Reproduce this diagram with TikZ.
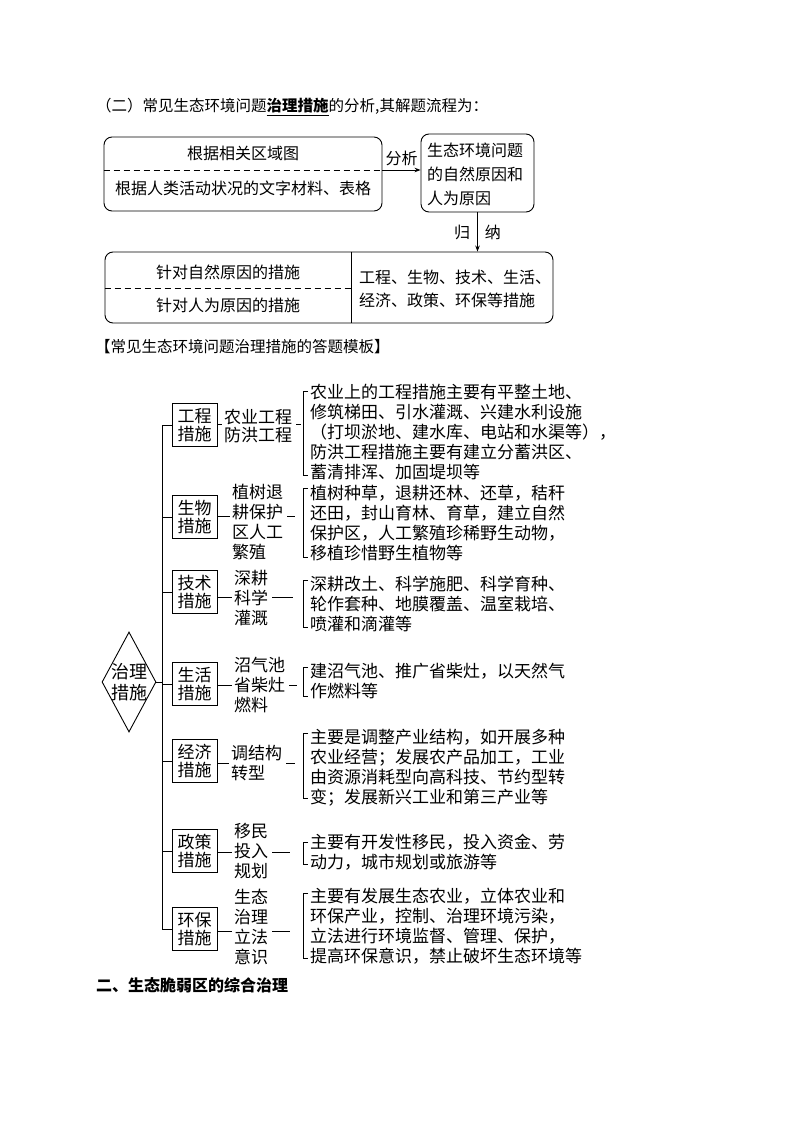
\documentclass[tikz,border=0pt]{standalone}
\usepackage{fontspec}
\setmainfont{Noto Sans CJK SC}
\usetikzlibrary{shapes.geometric,arrows.meta}
\begin{document}
\begin{tikzpicture}[x=1pt,y=-1pt,
  every node/.style={inner sep=0pt},
  ln/.style={line width=0.9pt},
  ttl/.style={anchor=west,font=\fontsize{15.5}{18}\selectfont},
  ft/.style={font=\fontsize{16}{20}\selectfont},
  rbox/.style={draw,line width=0.9pt,rounded corners=8pt},
  arr/.style={line width=0.9pt,-{Stealth[length=6pt,width=4.5pt]}},
  dsh/.style={line width=0.9pt,dash pattern=on 6pt off 4pt},
  cbox/.style={draw,line width=0.9pt,minimum width=45pt,minimum height=43pt,align=center,font=\fontsize{17}{18.5}\selectfont},
  mid/.style={anchor=west,align=left,inner xsep=2pt,font=\fontsize{17}{20}\selectfont},
  desc/.style={anchor=west,align=left,font=\fontsize{17}{20}\selectfont}]
\fill[white] (0,0) rectangle (794,1123);
\useasboundingbox (0,0) rectangle (794,1123);

% ---- title
\node[ttl] (title) at (96,107) {（二）常见生态环境问题\underline{\textbf{治理措施}}的分析,其解题流程为：};

% ---- flow chart
\node[rbox,minimum width=278pt,minimum height=74pt] (b1) at (243,174) {};
\node[ft] (b1a) at (243,153) {根据相关区域图};
\node[ft] (b1b) at (243,188) {根据人类活动状况的文字材料、表格};
\coordinate (d1) at (243,170);
\draw[dsh] (b1.west |- d1) -- (b1.east |- d1);

\node[rbox,minimum width=113pt,minimum height=78pt] (b2) at (477.5,173) {};
\node[anchor=west,align=left,font=\fontsize{16}{24}\selectfont] (b2t) at (427,174) {生态环境问题\\的自然原因和\\人为原因};

\draw[arr] (b1.east |- d1) -- node[ft,midway,above=4pt] (fx) {分析} (b2.west |- d1);

\node[rbox,minimum width=448pt,minimum height=71pt] (b3) at (329,287.5) {};
\coordinate (dv) at (351,288);
\draw[ln] (b3.north -| dv) -- (b3.south -| dv);
\draw[dsh] (b3.west |- dv) -- (dv);
\node[ft] (b3a) at (228,272) {针对自然原因的措施};
\node[ft] (b3b) at (228,305) {针对人为原因的措施};
\node[anchor=west,align=left,font=\fontsize{16}{23}\selectfont] (b3c) at (359,288.5) {工程、生物、技术、生活、\\经济、政策、环保等措施};

\draw[arr] (b2.south) -- node[ft,midway,left=7pt] (gu) {归} node[ft,midway,right=7pt] (na) {纳} (b2.south |- b3.north);

% ---- template heading
\node[ttl] (tpl) at (95,347) {【常见生态环境问题治理措施的答题模板】};

% ---- tree
\node[draw,diamond,line width=0.9pt,minimum width=54pt,minimum height=100pt] (root) at (129,682) {};
\node[align=center,font=\fontsize{18}{21}\selectfont] (rootT) at (root.center) {治理\\措施};

\node[cbox] (k1) at (194.5,425) {工程\\措施};
\node[cbox] (k2) at (194.5,517) {生物\\措施};
\node[cbox] (k3) at (194.5,592) {技术\\措施};
\node[cbox] (k4) at (194.5,684) {生活\\措施};
\node[cbox] (k5) at (194.5,761) {经济\\措施};
\node[cbox] (k6) at (194.5,851) {政策\\措施};
\node[cbox] (k7) at (194.5,929) {环保\\措施};

\coordinate (tr) at (162,0);
\draw[ln] (tr |- k1) -- (tr |- k7);
\draw[ln] (root.east) -- (tr |- root);
\foreach \i in {1,...,7} { \draw[ln] (tr |- k\i) -- (k\i.west); }

% middle keywords
\node[mid,font=\fontsize{17}{18.5}\selectfont] (m1) at (222,426) {农业工程\\防洪工程};
\node[mid] (m2) at (230,522.5) {植树退\\耕保护\\区人工\\繁殖};
\node[mid] (m3) at (232,598) {深耕\\科学\\灌溉};
\node[mid] (m4) at (232,685) {沼气池\\省柴灶\\燃料};
\node[mid] (m5) at (229,763) {调结构\\转型};
\node[mid] (m6) at (232,851) {移民\\投入\\规划};
\node[mid] (m7) at (232,927) {生态\\治理\\立法\\意识};

% connector levels and free ends
\coordinate (c1) at (0,424);   \coordinate (e1) at (301,424);
\coordinate (c2) at (0,516);   \coordinate (e2) at (295,516);
\coordinate (c3) at (0,597);   \coordinate (e3) at (293,597);
\coordinate (c4) at (0,685);   \coordinate (e4) at (297,685);
\coordinate (c5) at (0,763);   \coordinate (e5) at (295,763);
\coordinate (c6) at (0,852);   \coordinate (e6) at (290,852);
\coordinate (c7) at (0,931);   \coordinate (e7) at (290,931);
\foreach \i in {1,...,7} {
  \draw[ln] (k\i.east |- c\i) -- (m\i.west |- c\i);
  \draw[ln] ([xshift=2pt]m\i.east |- c\i) -- (e\i);
}

% brackets
\foreach \a/\b in {391/475, 488/557, 580/627, 667/696, 733/798, 842/864, 893/958} {
  \draw[ln] (308,\a) -- (303,\a) -- (303,\b) -- (308,\b);
}

% descriptions
\node[desc] (t1) at (310,432.5) {农业上的工程措施主要有平整土地、\\修筑梯田、引水灌溉、兴建水利设施\\（打坝淤地、建水库、电站和水渠等），\\防洪工程措施主要有建立分蓄洪区、\\蓄清排浑、加固堤坝等};
\node[desc] (t2) at (310,523) {植树种草，退耕还林、还草，秸秆\\还田，封山育林、育草，建立自然\\保护区，人工繁殖珍稀野生动物，\\移植珍惜野生植物等};
\node[desc] (t3) at (310,604) {深耕改土、科学施肥、科学育种、\\轮作套种、地膜覆盖、温室栽培、\\喷灌和滴灌等};
\node[desc] (t4) at (310,681) {建沼气池、推广省柴灶，以天然气\\作燃料等};
\node[desc] (t5) at (310,767.5) {主要是调整产业结构，如开展多种\\农业经营；发展农产品加工，工业\\由资源消耗型向高科技、节约型转\\变；发展新兴工业和第三产业等};
\node[desc] (t6) at (310,852.5) {主要有开发性移民，投入资金、劳\\动力，城市规划或旅游等};
\node[desc] (t7) at (310,926) {主要有发展生态农业，立体农业和\\环保产业，控制、治理环境污染，\\立法进行环境监督、管理、保护，\\提高环保意识，禁止破坏生态环境等};

% ---- final heading
\node[anchor=west,font=\fontsize{16}{18}\selectfont\bfseries] (h2) at (96,985) {二、生态脆弱区的综合治理};
\end{tikzpicture}
\end{document}
